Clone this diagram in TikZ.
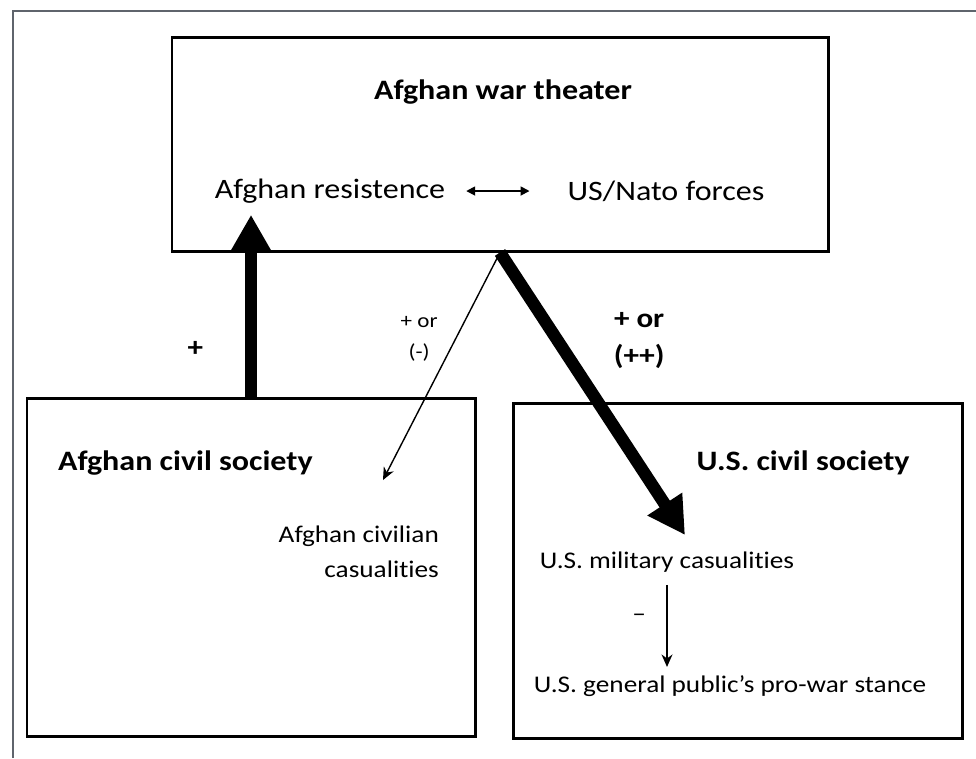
\documentclass[tikz,border=0pt]{standalone}
\usepackage{fontspec}
\setmainfont{Carlito}[FakeStretch=1.14, Ligatures={TeX,NoCommon}]
\usetikzlibrary{arrows.meta,positioning}
\definecolor{framegray}{RGB}{95,100,108}

\begin{document}
\begin{tikzpicture}[x=0.2mm, y=-0.2mm,
	panel/.style = { draw, line width=1.7pt, inner sep=0pt },
	heading/.style = { inner sep=1pt, font=\bfseries\fontsize{16}{19}\selectfont },
	topentry/.style = { inner sep=1pt, font=\fontsize{16}{19}\selectfont },
	entry/.style = { inner sep=1pt, font=\fontsize{13.6}{19.9}\selectfont },
	signlbl/.style = { inner sep=1pt, align=center,
			font=\bfseries\fontsize{15.5}{21}\selectfont },
	smallsign/.style = { inner sep=1pt, align=center,
			font=\fontsize{11.5}{17.6}\selectfont },
	bigarrow/.style = { line width=7pt, -{Triangle[width=7.8mm, length=7.4mm]} },
	thinarrow/.style = { line width=0.8pt, -{Stealth[width=2.2mm, length=2.5mm]} },
	bothways/.style = { line width=1pt,
			{Triangle[width=1.8mm, length=1.8mm]}-{Triangle[width=1.8mm, length=1.8mm]} }]

  \useasboundingbox (0,0) rectangle (976,758);
  \draw[framegray, line width=0.6pt] (13,758) -- (13,11) -- (976,11);

  \node[name=theater, panel, minimum width=131.2mm, minimum height=42.8mm] at (500,144) {};
  \node[name=afbox, panel, minimum width=89.6mm, minimum height=67.6mm] at (251,567) {};
  \node[name=usbox, panel, minimum width=89.8mm, minimum height=67mm] at (737.5,570.5) {};

  \node[name=wartitle, heading] at (503,92) {Afghan war theater};
  \node[name=afres, topentry] at (330,191) {Afghan resistence};
  \node[name=usnato, topentry] at (666,191) {US/Nato forces};
  \node[name=afsoc, heading, anchor=west] at (56,463) {Afghan civil society};
  \node[name=ussoc, heading] at (803,463) {U.S. civil society};
  \node[name=afcas, entry, align=right, anchor=east] at (441,552)
    {Afghan civilian\\casualities};
  \node[name=uscas, entry] at (667,562) {U.S. military casualities};
  \node[name=uspub, entry] at (730,686) {U.S. general public's pro-war stance};

  \coordinate (aftip) at (383,480);
  \coordinate (ustip) at (685,535);

  \draw [bothways, shorten <=3.8mm, shorten >=7.2mm] (afres) -- (usnato);
  \draw [bigarrow, shorten >=1.9mm] (afbox.north) -- (afbox.north |- afres.south)
    node [pos=0.25, left=8mm, signlbl] {+};
  \draw [thinarrow] (theater.south) -- (aftip)
    node [pos=0.38, left=3.1mm, smallsign] {+ or\\(-)};
  \draw [bigarrow] (theater.south) -- (ustip)
    node [pos=0.313, right=9.6mm, signlbl] {+ or\\(++)};
  \draw [thinarrow, shorten <=2.1mm, shorten >=1.3mm] (uscas.south) -- (uscas.south |- uspub.north)
    node [pos=0.44, left=3.7mm, entry] {--};
\end{tikzpicture}
\end{document}
